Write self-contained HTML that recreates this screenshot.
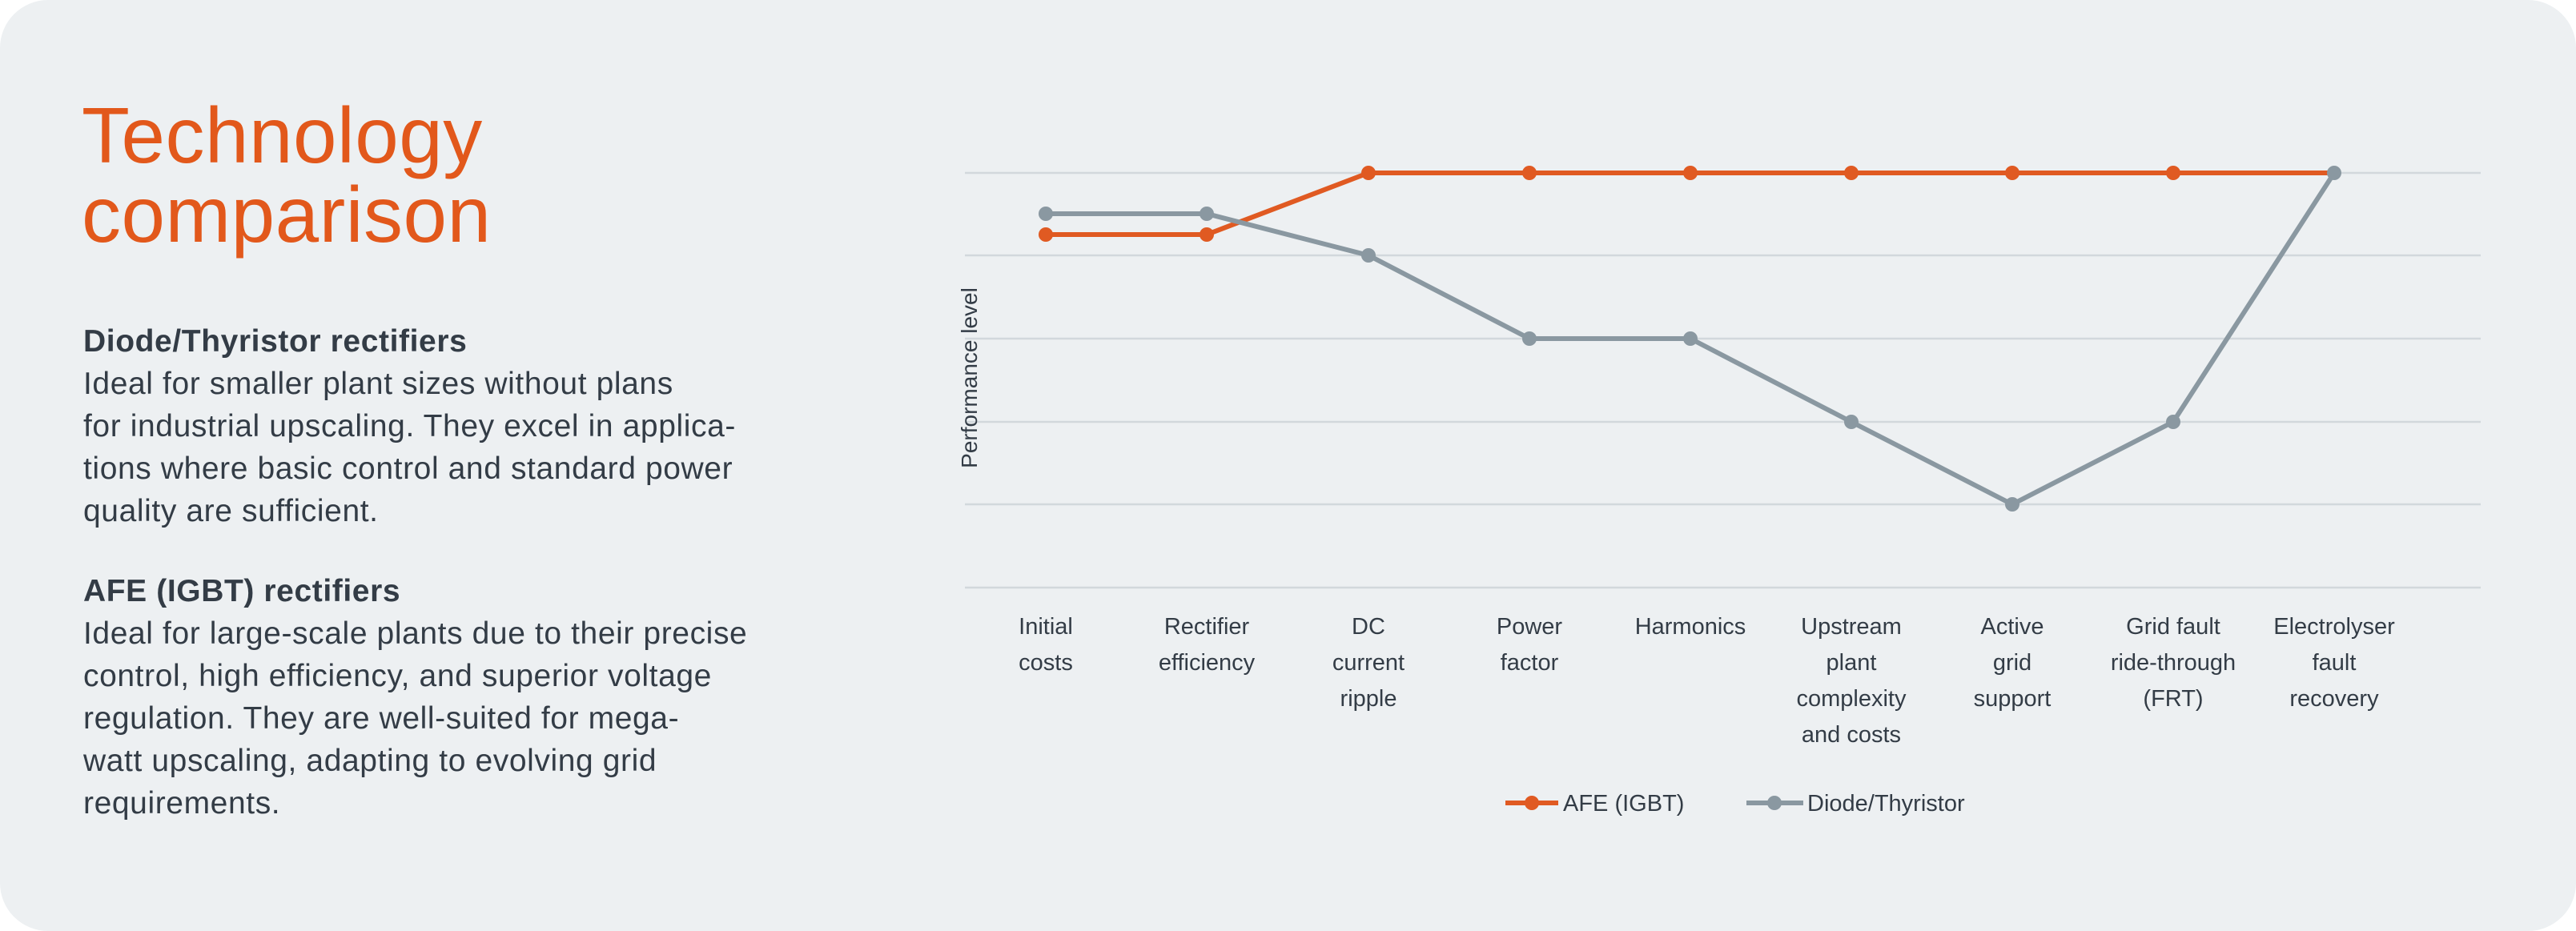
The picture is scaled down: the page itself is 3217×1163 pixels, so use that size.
<!DOCTYPE html>
<html><head><meta charset="utf-8"><style>
html,body{margin:0;padding:0;background:#fff;}
body{width:3217px;height:1163px;position:relative;overflow:hidden;font-family:"Liberation Sans",sans-serif;}
.card{position:absolute;left:0;top:0;width:3217px;height:1163px;background:#edf0f2;border-radius:60px;}
.t{position:absolute;white-space:nowrap;}
</style></head><body>
<div class="card"></div>
<div class="t" style="left:102px;top:120px;font-size:98px;line-height:99px;color:#e2581b;letter-spacing:0.5px;">Technology<br>comparison</div>
<div class="t" style="left:104px;top:400px;font-size:39px;line-height:53px;color:#333c46;letter-spacing:0.6px;">
<b>Diode/Thyristor rectifiers</b><br>
Ideal for smaller plant sizes without plans<br>
for industrial upscaling. They excel in applica-<br>
tions where basic control and standard power<br>
quality are sufficient.</div>
<div class="t" style="left:104px;top:712px;font-size:39px;line-height:53px;color:#333c46;letter-spacing:0.6px;">
<b>AFE (IGBT) rectifiers</b><br>
Ideal for large-scale plants due to their precise<br>
control, high efficiency, and superior voltage<br>
regulation. They are well-suited for mega-<br>
watt upscaling, adapting to evolving grid<br>
requirements.</div>
<svg width="3217" height="1163" style="position:absolute;left:0;top:0" font-family="Liberation Sans, sans-serif">
<g stroke="#d2d8dc" stroke-width="2.5">
<line x1="1205" x2="3098" y1="216" y2="216"/><line x1="1205" x2="3098" y1="319" y2="319"/>
<line x1="1205" x2="3098" y1="423" y2="423"/><line x1="1205" x2="3098" y1="527" y2="527"/>
<line x1="1205" x2="3098" y1="630" y2="630"/><line x1="1205" x2="3098" y1="734" y2="734"/>
</g>
<text transform="translate(1220,472) rotate(-90)" text-anchor="middle" font-size="28" fill="#333c46">Performance level</text>
<polyline fill="none" stroke="#e05a22" stroke-width="6" points="1306,293 1507,293 1709,216 1910,216 2111,216 2312,216 2513,216 2714,216 2915,216"/>
<g fill="#e05a22"><circle cx="1306" cy="293" r="9"/><circle cx="1507" cy="293" r="9"/><circle cx="1709" cy="216" r="9"/><circle cx="1910" cy="216" r="9"/><circle cx="2111" cy="216" r="9"/><circle cx="2312" cy="216" r="9"/><circle cx="2513" cy="216" r="9"/><circle cx="2714" cy="216" r="9"/></g>
<polyline fill="none" stroke="#8a98a1" stroke-width="6" points="1306,267 1507,267 1709,319 1910,423 2111,423 2312,527 2513,630 2714,527 2915,216"/>
<g fill="#8a98a1"><circle cx="1306" cy="267" r="9"/><circle cx="1507" cy="267" r="9"/><circle cx="1709" cy="319" r="9"/><circle cx="1910" cy="423" r="9"/><circle cx="2111" cy="423" r="9"/><circle cx="2312" cy="527" r="9"/><circle cx="2513" cy="630" r="9"/><circle cx="2714" cy="527" r="9"/><circle cx="2915" cy="216" r="9"/></g>
<g font-size="29" fill="#333c46" text-anchor="middle">
<text x="1306" y="792">Initial</text><text x="1306" y="837">costs</text>
<text x="1507" y="792">Rectifier</text><text x="1507" y="837">efficiency</text>
<text x="1709" y="792">DC</text><text x="1709" y="837">current</text><text x="1709" y="882">ripple</text>
<text x="1910" y="792">Power</text><text x="1910" y="837">factor</text>
<text x="2111" y="792">Harmonics</text>
<text x="2312" y="792">Upstream</text><text x="2312" y="837">plant</text><text x="2312" y="882">complexity</text><text x="2312" y="927">and costs</text>
<text x="2513" y="792">Active</text><text x="2513" y="837">grid</text><text x="2513" y="882">support</text>
<text x="2714" y="792">Grid fault</text><text x="2714" y="837">ride-through</text><text x="2714" y="882">(FRT)</text>
<text x="2915" y="792">Electrolyser</text><text x="2915" y="837">fault</text><text x="2915" y="882">recovery</text>
</g>
<line x1="1880" x2="1946" y1="1003" y2="1003" stroke="#e05a22" stroke-width="6"/><circle cx="1913" cy="1003" r="9" fill="#e05a22"/>
<text x="1952" y="1013" font-size="29" fill="#333c46">AFE (IGBT)</text>
<line x1="2181" x2="2252" y1="1003" y2="1003" stroke="#8a98a1" stroke-width="6"/><circle cx="2216" cy="1003" r="9" fill="#8a98a1"/>
<text x="2257" y="1013" font-size="29" fill="#333c46">Diode/Thyristor</text>
</svg>
</body></html>
